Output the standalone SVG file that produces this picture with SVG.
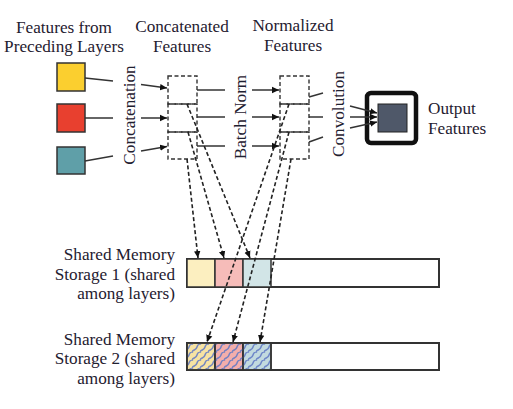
<svg xmlns="http://www.w3.org/2000/svg" width="513" height="409" viewBox="0 0 513 409">
<style>
text{font-family:"Liberation Serif","Times New Roman",serif;font-size:17.2px;fill:#1f2030}
.c{text-anchor:middle}
.e{text-anchor:end}
.ln{stroke:#333;stroke-width:1.5;fill:none}
.ar{stroke:#333;stroke-width:1.5;fill:none;marker-end:url(#ah)}
.da{stroke:#222;stroke-width:1.6;fill:none;stroke-dasharray:4 2.5;marker-end:url(#ah)}
.db{stroke:#333;stroke-width:1.4;fill:none;stroke-dasharray:4 2.5}
.sq{stroke:#333;stroke-width:1.5}
.bar{stroke:#333;stroke-width:2;fill:#fff}
.seg{stroke:#333;stroke-width:1.5}
</style>
<defs>
<marker id="ah" markerWidth="8" markerHeight="8" refX="7" refY="4" orient="auto" markerUnits="userSpaceOnUse">
<path d="M0,0.8 L7,4 L0,7.2 Z" fill="#111"/>
</marker>
<pattern id="hatch" width="8" height="8" patternUnits="userSpaceOnUse">
<path d="M-1,9 C1,5 4,7 5,3 S8,1 9,-1 M-1,1 C0,0 1,0 1,-1 M7,9 C8,8 9,8 9,7" stroke="#5f78c4" stroke-width="1.5" fill="none" opacity="0.85"/>
</pattern>
</defs>

<g id="labels">
<text class="c" x="64" y="33">Features from</text>
<text class="c" x="64" y="52">Preceding Layers</text>
<text class="c" x="182" y="32">Concatenated</text>
<text class="c" x="182" y="52">Features</text>
<text class="c" x="293" y="31">Normalized</text>
<text class="c" x="293" y="51">Features</text>
<text class="c" transform="translate(135,115) rotate(-90)">Concatenation</text>
<text class="c" transform="translate(246,117) rotate(-90)">Batch Norm</text>
<text class="c" transform="translate(344,114) rotate(-90)">Convolution</text>
</g>

<g id="input-yellow"><rect class="sq" x="57" y="63" width="28" height="28" fill="#fbcf2f"/></g>
<g id="input-red"><rect class="sq" x="57" y="104" width="28" height="28" fill="#e8402f"/></g>
<g id="input-teal"><rect class="sq" x="57" y="147" width="28" height="27" fill="#5f9fa8"/></g>

<g id="concatenated">
<rect class="db" x="168" y="76" width="29" height="28"/>
<rect class="db" x="168" y="104" width="29" height="28"/>
<rect class="db" x="168" y="132" width="29" height="27"/>
</g>

<g id="normalized">
<rect class="db" x="280" y="76" width="29" height="28"/>
<rect class="db" x="280" y="104" width="29" height="28"/>
<rect class="db" x="280" y="132" width="29" height="27"/>
</g>

<g id="output">
<rect x="367" y="93" width="49" height="50" rx="4" fill="#fff" stroke="#111" stroke-width="4.5"/>
<rect x="378" y="104" width="29" height="28" fill="#4f5869" stroke="#222" stroke-width="1"/>
<text x="428" y="114">Output</text>
<text x="428" y="134">Features</text>
</g>

<g id="storage1">
<rect class="bar" x="187" y="259" width="252" height="28"/>
<rect class="seg" x="187" y="259" width="28" height="28" fill="#fcefc0"/>
<rect class="seg" x="215" y="259" width="28" height="28" fill="#f6bcb9"/>
<rect class="seg" x="243" y="259" width="28" height="28" fill="#d2e5e7"/>
<text class="e" x="175" y="260">Shared Memory</text>
<text class="e" x="175" y="280">Storage 1 (shared</text>
<text class="e" x="175" y="299">among layers)</text>
</g>

<g id="storage2">
<rect class="bar" x="187" y="343" width="252" height="27"/>
<rect class="seg" x="187" y="343" width="28" height="27" fill="#f7e3a3"/>
<rect class="seg" x="215" y="343" width="28" height="27" fill="#f3aeab"/>
<rect class="seg" x="243" y="343" width="28" height="27" fill="#c2dadf"/>
<rect x="188" y="344" width="82" height="25" fill="url(#hatch)"/>
<rect x="187" y="343" width="84" height="27" fill="none" stroke="#333" stroke-width="1.5"/>
<line x1="215" y1="343" x2="215" y2="370" stroke="#333" stroke-width="1.5"/>
<line x1="243" y1="343" x2="243" y2="370" stroke="#333" stroke-width="1.5"/>
<text class="e" x="175" y="345">Shared Memory</text>
<text class="e" x="175" y="364">Storage 2 (shared</text>
<text class="e" x="175" y="384">among layers)</text>
</g>

<g id="connectors">
<line class="ln" x1="85" y1="78" x2="113" y2="81"/>
<line class="ln" x1="85" y1="118" x2="113" y2="118"/>
<line class="ln" x1="85" y1="161" x2="113" y2="156"/>
<line class="ar" x1="141" y1="84.5" x2="167" y2="88"/>
<line class="ar" x1="141" y1="118" x2="167" y2="118"/>
<line class="ar" x1="141" y1="151" x2="167" y2="146.5"/>

<line class="ln" x1="197" y1="90" x2="225" y2="90"/>
<line class="ln" x1="197" y1="117" x2="225" y2="117"/>
<line class="ln" x1="197" y1="146" x2="225" y2="146"/>
<line class="ar" x1="252" y1="90" x2="279" y2="90"/>
<line class="ar" x1="252" y1="117" x2="279" y2="117"/>
<line class="ar" x1="252" y1="146" x2="279" y2="146"/>

<line class="ln" x1="309" y1="97" x2="323" y2="93"/>
<line class="ln" x1="309" y1="117" x2="323" y2="117"/>
<line class="ln" x1="309" y1="142" x2="323" y2="137"/>
<line class="ar" x1="350" y1="106" x2="377" y2="113"/>
<line class="ar" x1="350" y1="117" x2="377" y2="117"/>
<line class="ar" x1="350" y1="128" x2="377" y2="122"/>

<line class="da" x1="187" y1="159" x2="198" y2="258"/>
<line class="da" x1="188" y1="132" x2="224" y2="258"/>
<line class="da" x1="187" y1="104" x2="250" y2="258"/>

<line class="da" x1="289" y1="104" x2="207" y2="342"/>
<line class="da" x1="289" y1="132" x2="233" y2="342"/>
<line class="da" x1="291" y1="159" x2="260" y2="342"/>
</g>
</svg>
